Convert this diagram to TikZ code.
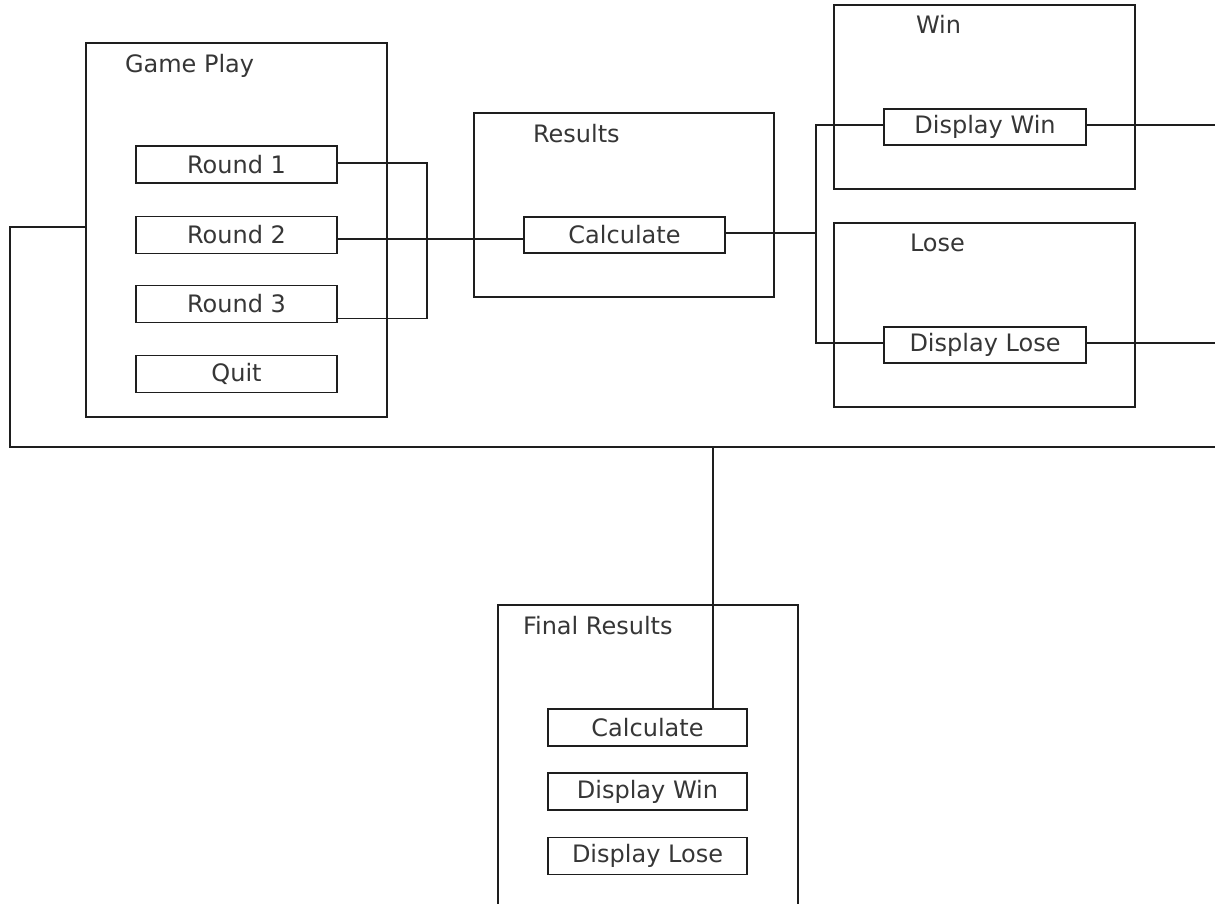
\documentclass[tikz,border=0pt]{standalone}
\usepackage{fontspec}
\setmainfont{DejaVu Sans}
\usetikzlibrary{calc}
\definecolor{linec}{HTML}{1E1E1E}
\definecolor{textc}{HTML}{363636}
\begin{document}
\begin{tikzpicture}[x=1pt,y=-1pt,
  every node/.style={inner sep=0pt,outer sep=0pt,text=textc,font=\fontsize{24}{28}\selectfont},
  box/.style={draw=linec,line width=1.9pt,rectangle},
  item/.style={box,minimum height=37pt},
  title/.style={anchor=base west},
  conn/.style={draw=linec,line width=1.9pt}]
\useasboundingbox (0,0) rectangle (1215,903);
\clip (0,0) rectangle (1215,903);
% containers
\node[box,minimum width=301pt,minimum height=374pt] (gp) at (236.5,230) {};
\node[box,minimum width=300pt,minimum height=184pt] (res) at (624,205) {};
\node[box,minimum width=301pt,minimum height=184pt] (win) at (984.5,97) {};
\node[box,minimum width=301pt,minimum height=184pt] (lose) at (984.5,315) {};
\node[box,minimum width=300pt,minimum height=315pt] (final) at (648,762.5) {};
% titles
\node[title] (gpt) at (125,72) {Game Play};
\node[title] (rest) at (533,142) {Results};
\node[title] (wint) at (916,33) {Win};
\node[title] (loset) at (910,251) {Lose};
\node[title] (finalt) at (523,634) {Final Results};
% items
\node[item,minimum width=201pt] (r1) at (236.5,164.5) {Round 1};
\node[item,minimum width=201pt] (r2) at (236.5,235) {Round 2};
\node[item,minimum width=201pt] (r3) at (236.5,304) {Round 3};
\node[item,minimum width=201pt] (quit) at (236.5,374) {Quit};
\node[item,minimum width=201pt,minimum height=36pt] (calc) at (624.5,235) {Calculate};
\node[item,minimum width=202pt,minimum height=36pt] (dw) at (985,127) {Display Win};
\node[item,minimum width=202pt,minimum height=36pt] (dl) at (985,345) {Display Lose};
\node[item,minimum width=199pt] (fcalc) at (647.5,727.5) {Calculate};
\node[item,minimum width=199pt] (fdw) at (647.5,791.5) {Display Win};
\node[item,minimum width=199pt] (fdl) at (647.5,856) {Display Lose};
% helper coordinates
\coordinate (split) at (816,233);
\coordinate (redge) at (1215,0);
\coordinate (bl) at (10,447);
\coordinate (br) at (1215,447);
\coordinate (drop) at (713,447);
% connectors
\draw[conn] ([yshift=1.5pt]r1.east) -- ++(90,0) |- ([yshift=4pt]r3.south east);
\draw[conn] ([yshift=-4pt]r2.east) -- ([yshift=-4pt]calc.west);
\draw[conn] ([yshift=2pt]calc.east) -- (split);
\draw[conn] ([yshift=2pt]dw.west) -| (split) |- ([yshift=2pt]dl.west);
\draw[conn] ([yshift=2pt]dw.east) -- ([yshift=2pt]dw.east -| redge);
\draw[conn] ([yshift=2pt]dl.east) -- ([yshift=2pt]dl.east -| redge);
\draw[conn] ([yshift=3pt]gp.west) -| (bl) -- (br);
\draw[conn] (drop) -- (drop |- fcalc.north);
\end{tikzpicture}
\end{document}
